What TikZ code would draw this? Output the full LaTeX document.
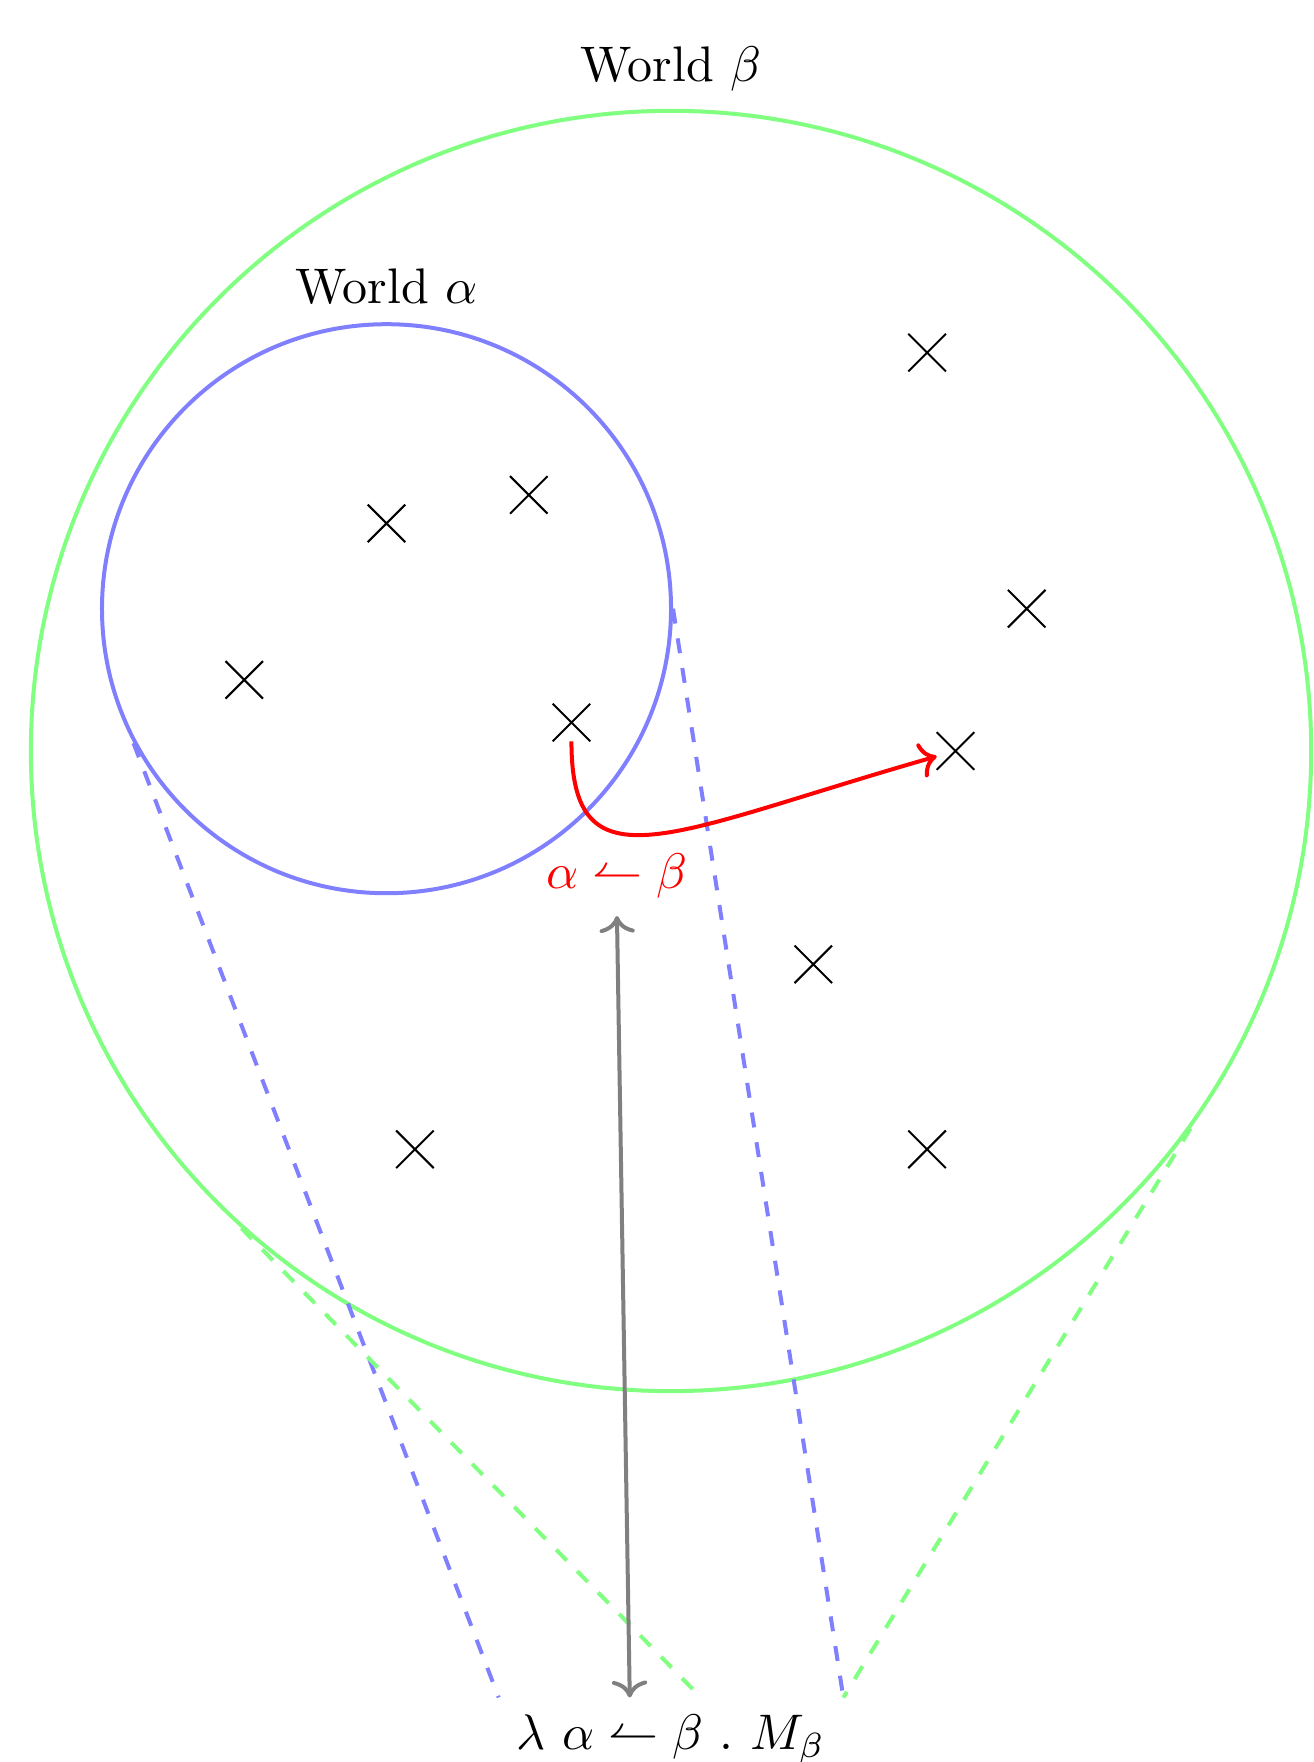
\documentclass[tikz,border=0pt]{standalone}
\usepackage{amsmath,amssymb}
\usepackage{tikz}
\usetikzlibrary{arrows.meta, positioning, shapes.misc}
\usepackage{xcolor}
\definecolor{worldgreen}{RGB}{128,255,128}
\definecolor{worldblue}{RGB}{128,128,255}
\tikzset{
  world/.style={draw, circle, thick, inner sep=0pt},
  elem/.style={draw, cross out, thin, minimum size=2.5mm, inner sep=0pt},
  cone/.style={dashed, thick},
}

\begin{document}
\begin{tikzpicture}
  \useasboundingbox (-4.717,-7.107) rectangle (4.513,5.279);
  % worlds
  \node[world, worldgreen, minimum size=9cm] (beta) at (0,0) {};
  \node[world, worldblue, minimum size=4cm] (alpha) at (-2,1) {};
  \node[above=0pt of beta] (betalab) {World $\beta$};
  \node[above=0pt of alpha] (alphalab) {World $\alpha$};
  % elements
  \node[elem] (e1) at (1.8,2.8) {};
  \node[elem] (e2) at (-1,1.8) {};
  \node[elem] (e3) at (-2,1.6) {};
  \node[elem] (e4) at (2.5,1) {};
  \node[elem] (e5) at (-3,0.5) {};
  \node[elem] (e6) at (-0.7,0.2) {};
  \node[elem] (e7) at (2,0) {};
  \node[elem] (e8) at (1,-1.5) {};
  \node[elem] (e9) at (-1.8,-2.8) {};
  \node[elem] (e10) at (1.8,-2.8) {};
  % term
  \node (term) at (0,-6.95) {$\lambda\ \alpha \leftharpoonup \beta\ .\ M_\beta$};
  \coordinate (gcut) at ([xshift=2.1mm]term.north);
  \coordinate (harp) at ([xshift=-2.9mm]term.north);
  % cones
  \draw[cone, worldblue] (alpha.208) -- (term.north west);
  \draw[cone, worldblue] (alpha.east) -- (term.north east);
  \draw[cone, worldgreen] (beta.228) -- (gcut);
  \draw[cone, worldgreen] (beta.-36) -- (term.north east);
  % substitution
  \draw[->, red, thick] (e6) .. controls (-0.7,-1) and (0,-0.57) .. (e7);
  \node[red] (sub) at (-0.38,-0.88) {$\alpha \leftharpoonup \beta$};
  \draw[<->, gray, thick] (sub.south) -- (harp);
\end{tikzpicture}
\end{document}
